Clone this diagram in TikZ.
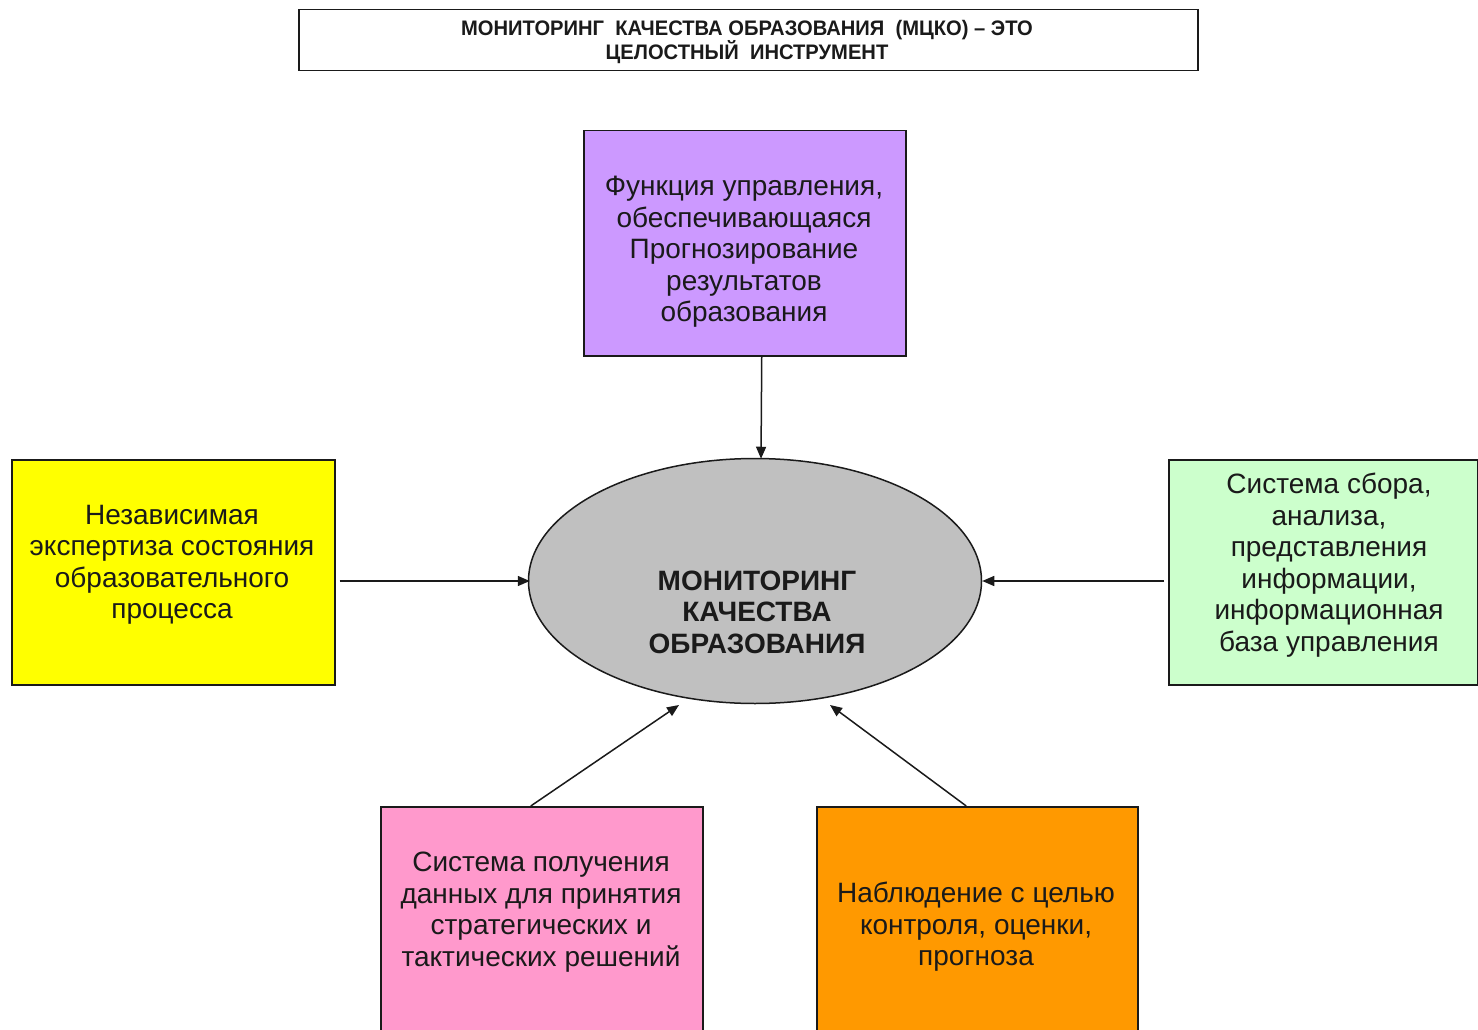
\documentclass[tikz,border=0pt]{standalone}
\usepackage{fontspec}
\setmainfont{Liberation Sans}
\newfontfamily\narrowfont[FakeStretch=0.96]{Liberation Sans}
\usetikzlibrary{shapes.geometric,arrows.meta,calc}
\definecolor{cpurple}{HTML}{CC99FF}
\definecolor{cyellow}{HTML}{FFFF00}
\definecolor{cgreen}{HTML}{CCFFCC}
\definecolor{cpink}{HTML}{FF99CC}
\definecolor{corange}{HTML}{FF9900}
\definecolor{cgrey}{HTML}{C0C0C0}
\definecolor{ink}{HTML}{1A1A1A}
\tikzset{
  box/.style={draw=ink, line width=1.5pt, rectangle, inner sep=0pt},
  txt/.style={align=center, inner sep=0pt, text=ink, font=\fontsize{28}{31.5}\selectfont},
  arr/.style={draw=ink, line width=1.5pt, -{Triangle[length=12pt,width=10pt]}}
}
\begin{document}
\begin{tikzpicture}[x=1pt,y=-1pt]
\useasboundingbox (0,0) rectangle (1478,1030);
\fill[white] (0,0) rectangle (1478,1030);
\clip (0,0) rectangle (1478,1030);
% title
\node[box, fill=white, minimum width=899, minimum height=61, anchor=north west] (title) at (298,9) {};
\node[align=center, inner sep=0pt, text=ink, font=\narrowfont\bfseries\fontsize{21}{23}\selectfont] (titlet) at (747,42)
  {МОНИТОРИНГ \ КАЧЕСТВА ОБРАЗОВАНИЯ \ (МЦКО) – ЭТО\\ЦЕЛОСТНЫЙ \ ИНСТРУМЕНТ};
% boxes
\node[box, fill=cpurple, minimum width=322, minimum height=225, anchor=north west] (purple) at (583,130) {};
\node[txt] (purplet) at (744,252) {Функция управления,\\обеспечивающаяся\\Прогнозирование\\результатов\\образования};
\node[box, fill=cyellow, minimum width=323, minimum height=225, anchor=north west] (yellow) at (11,459) {};
\node[txt] (yellowt) at (172,565) {Независимая\\экспертиза состояния\\образовательного\\процесса};
\node[box, fill=cgreen, minimum width=309, minimum height=225, anchor=north west] (green) at (1168,459) {};
\node[txt] (greent) at (1329,565) {Система сбора,\\анализа,\\представления\\информации,\\информационная\\база управления};
\node[box, fill=cpink, minimum width=322, minimum height=300, anchor=north west] (pink) at (380,806) {};
\node[txt] (pinkt) at (541,912) {Система получения\\данных для принятия\\стратегических и\\тактических решений};
\node[box, fill=corange, minimum width=321, minimum height=300, anchor=north west] (orange) at (816,806) {};
\node[txt] (oranget) at (976,927) {Наблюдение с целью\\контроля, оценки,\\прогноза};
% ellipse
\node[draw=ink, line width=1.5pt, ellipse, fill=cgrey, minimum width=453, minimum height=245, inner sep=0pt] (ell) at (755,581) {};
\node[txt, font=\bfseries\fontsize{28}{31.5}\selectfont] (ellt) at (757,612) {МОНИТОРИНГ\\КАЧЕСТВА\\ОБРАЗОВАНИЯ};
% arrows
\draw[arr] ([xshift=17]purple.south) -- ([xshift=6,yshift=-1]ell.north);
\draw[arr, shorten <=4pt] (yellow.east |- ell.west) -- ([xshift=2]ell.west);
\draw[arr, shorten <=4pt] (green.west |- ell.east) -- (ell.east);
\draw[arr] ([xshift=-11]pink.north) -- ($(ell.center)+(-76,124)$);
\draw[arr] ([xshift=-11]orange.north) -- ($(ell.center)+(75,124)$);
\end{tikzpicture}
\end{document}
